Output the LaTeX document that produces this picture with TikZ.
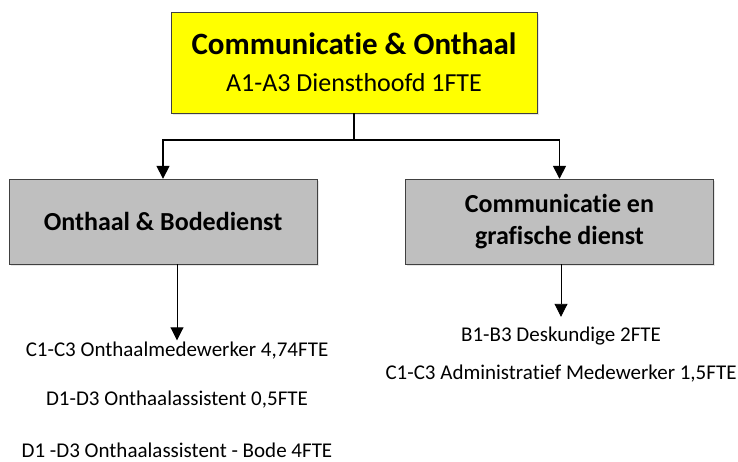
\documentclass[tikz,border=0pt]{standalone}
\usepackage{fontspec}
\setmainfont{Carlito}[Ligatures=NoCommon]
\usetikzlibrary{arrows.meta,positioning,shadows}

\definecolor{geel}{HTML}{FFFF00}
\definecolor{grijs}{HTML}{BFBFBF}
\definecolor{rand}{HTML}{404040}

\newcommand{\titelfont}{\fontsize{31}{34}\selectfont\bfseries}

\tikzset{
	schaduw/.style={drop shadow={shadow xshift=1.5pt, shadow yshift=-2pt, opacity=0.2}},
	hoofd/.style={draw=rand, fill=geel, schaduw, minimum width=366pt, minimum height=101pt,
		align=center, font=\fontsize{26}{34}\selectfont},
	dienst/.style={draw=rand, fill=grijs, schaduw, minimum width=308pt, minimum height=85pt,
		align=center, font=\fontsize{26}{32}\selectfont\bfseries},
	post/.style={inner sep=0pt, text height=13pt, text depth=4pt, font=\fontsize{21}{25}\selectfont},
	tak/.style={line width=1.6pt, -{Triangle[width=13pt,length=13pt]}},
	pijl/.style={line width=0.9pt, -{Triangle[width=13pt,length=13pt]}},
}

\begin{document}
\begin{tikzpicture}[x=1pt, y=-1pt]
	\useasboundingbox (0,0) rectangle (738,462);
	
	\node[hoofd] (co) at (354,62.5) {{\titelfont Communicatie \& Onthaal}\\[3pt] A1-A3 Diensthoofd 1FTE};
	\node[dienst] (ob) at (163,221.5) {Onthaal \& Bodedienst};
	\node[dienst] (cg) at (559.5,221.5) {Communicatie en\\grafische dienst};
	
	\node[post] (lc1) at (177,352) {C1-C3 Onthaalmedewerker 4,74FTE};
	\node[post, below=32pt of lc1] (lc2) {D1-D3 Onthaalassistent 0,5FTE};
	\node[post, below=34pt of lc2] (lc3) {D1 -D3 Onthaalassistent - Bode 4FTE};
	\node[post] (rc1) at (561,337) {B1-B3 Deskundige 2FTE};
	\node[post, below=21pt of rc1] (rc2) {C1-C3 Administratief Medewerker 1,5FTE};
	
	\coordinate (split) at (354,140);
	
	\draw[tak] (co.south) -- (split) -| (ob.north);
	\draw[tak] (split) -| (cg.north);
	\draw[pijl, shorten >=3pt] (lc1 |- ob.south) -- (lc1.north);
	\draw[pijl, shorten >=11.5pt] (rc1 |- cg.south) -- (rc1.north);
\end{tikzpicture}
\end{document}
